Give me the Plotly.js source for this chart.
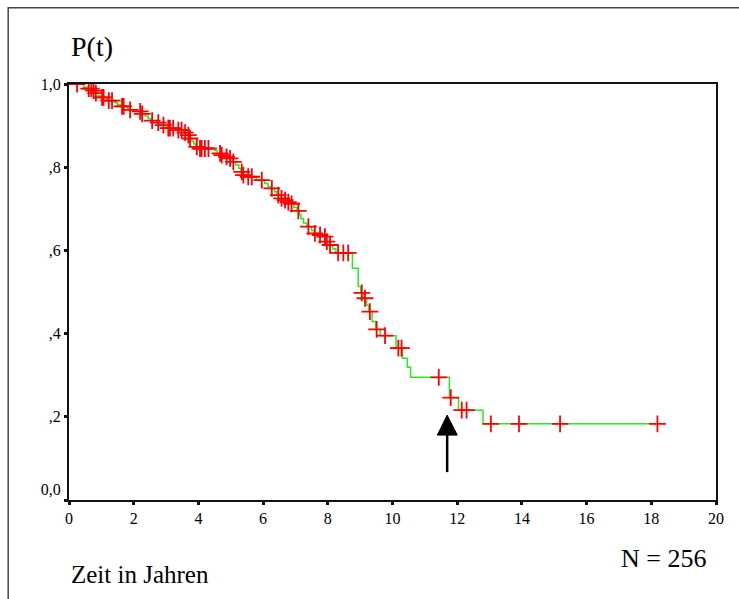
<!DOCTYPE html>
<html>
<head>
<meta charset="utf-8">
<script src="https://cdn.plot.ly/plotly-3.0.1.min.js"></script>
<style>
html,body{margin:0;padding:0;background:#fff;}
#chart{width:739px;height:599px;}
</style>
</head>
<body>
<div id="chart"></div>
<script>
// Kaplan-Meier step curve: event times (years) and survival after each step
const stepTimes = [0, 0.45, 0.58, 0.72, 0.78, 0.90, 0.98, 1.15, 1.20, 1.40, 1.50, 1.60, 1.80, 1.86, 2.05, 2.24, 2.35, 2.45, 2.53, 2.70, 2.85, 3.00, 3.30, 3.55, 3.65, 3.70, 3.72, 3.80, 3.86, 3.92, 4.02, 4.50, 4.58, 4.70, 4.80, 4.95, 5.05, 5.15, 5.25, 5.32, 5.37, 5.50, 5.80, 6.05, 6.15, 6.24, 6.35, 6.42, 6.55, 6.65, 6.75, 6.85, 6.95, 7.05, 7.12, 7.17, 7.25, 7.35, 7.50, 7.58, 7.70, 7.85, 7.95, 8.05, 8.15, 8.25, 8.76, 8.94, 9.02, 9.10, 9.20, 9.27, 9.37, 9.48, 9.62, 10.11, 10.31, 10.46, 10.56, 11.76, 12.04, 12.80, 18.19];
const stepSurv = [1.0, 0.992, 0.989, 0.984, 0.978, 0.972, 0.968, 0.964, 0.960, 0.955, 0.951, 0.946, 0.941, 0.938, 0.934, 0.928, 0.923, 0.917, 0.912, 0.907, 0.901, 0.894, 0.889, 0.883, 0.877, 0.873, 0.869, 0.862, 0.856, 0.849, 0.845, 0.840, 0.833, 0.829, 0.825, 0.821, 0.813, 0.805, 0.797, 0.789, 0.781, 0.777, 0.769, 0.761, 0.753, 0.749, 0.741, 0.733, 0.725, 0.721, 0.716, 0.712, 0.703, 0.695, 0.686, 0.676, 0.666, 0.657, 0.648, 0.641, 0.637, 0.633, 0.621, 0.613, 0.604, 0.594, 0.557, 0.513, 0.498, 0.485, 0.468, 0.453, 0.429, 0.410, 0.395, 0.365, 0.341, 0.319, 0.295, 0.246, 0.216, 0.183, 0.183];

// Censored observations
const censorTimes = [0.25, 0.61, 0.69, 0.76, 0.83, 1.02, 1.07, 1.23, 1.33, 1.64, 1.69, 1.89, 2.20, 2.26, 2.57, 2.76, 2.92, 3.07, 3.12, 3.22, 3.38, 3.48, 3.59, 3.69, 3.74, 3.95, 4.05, 4.10, 4.20, 4.31, 4.67, 4.72, 4.87, 4.98, 5.08, 5.34, 5.39, 5.54, 5.65, 5.96, 6.27, 6.47, 6.57, 6.68, 6.78, 6.88, 7.09, 7.40, 7.60, 7.76, 7.91, 7.97, 8.07, 8.32, 8.48, 8.63, 9.05, 9.15, 9.30, 9.51, 9.77, 10.18, 10.28, 11.43, 11.80, 12.14, 12.29, 13.04, 13.91, 15.18, 18.19];
const censorSurv = [1.0, 0.989, 0.989, 0.984, 0.978, 0.968, 0.968, 0.960, 0.960, 0.946, 0.946, 0.938, 0.934, 0.928, 0.912, 0.907, 0.901, 0.894, 0.894, 0.894, 0.889, 0.889, 0.883, 0.877, 0.869, 0.849, 0.845, 0.845, 0.845, 0.845, 0.833, 0.829, 0.825, 0.821, 0.813, 0.789, 0.781, 0.777, 0.777, 0.769, 0.749, 0.733, 0.725, 0.721, 0.716, 0.712, 0.695, 0.657, 0.641, 0.637, 0.633, 0.621, 0.613, 0.594, 0.594, 0.594, 0.498, 0.485, 0.453, 0.410, 0.395, 0.365, 0.365, 0.295, 0.246, 0.216, 0.216, 0.183, 0.183, 0.183, 0.183];

const xTickVals = [0, 2, 4, 6, 8, 10, 12, 14, 16, 18, 20];
const xTickText = ["0", "2", "4", "6", "8", "10", "12", "14", "16", "18", "20"];
const yTickVals = [0, 0.2, 0.4, 0.6, 0.8, 1.0];
const yTickText = ["0,0<br> ", ",2", ",4", ",6", ",8", "1,0"];

const arrowX = 11.69;

const serif = "'Liberation Serif'";

const traces = [
  {
    x: stepTimes, y: stepSurv, type: 'scatter', mode: 'lines',
    line: {shape: 'hv', color: '#22ee22', width: 1.5},
    hoverinfo: 'skip', showlegend: false
  },
  {
    x: censorTimes, y: censorSurv, type: 'scatter', mode: 'markers',
    marker: {symbol: 'cross-thin', size: 12, color: '#ff0000', line: {color: '#ff0000', width: 1.8}},
    hoverinfo: 'skip', showlegend: false
  }
];

const layout = {
  width: 739, height: 599,
  margin: {l: 69, r: 23, t: 84, b: 99},
  paper_bgcolor: '#ffffff', plot_bgcolor: '#ffffff',
  showlegend: false,
  font: {family: serif, color: '#000'},
  xaxis: {
    range: [0, 20], tickvals: xTickVals, ticktext: xTickText,
    showgrid: false, zeroline: false,
    showline: true, linecolor: '#111', linewidth: 2, mirror: true,
    ticks: 'outside', ticklen: 3, tickwidth: 3, tickcolor: '#111',
    tickfont: {family: serif, size: 16, color: '#000'}
  },
  yaxis: {
    range: [0, 1], tickvals: yTickVals, ticktext: yTickText,
    showgrid: false, zeroline: false,
    showline: true, linecolor: '#111', linewidth: 2, mirror: true,
    ticks: 'outside', ticklen: 3, tickwidth: 3, tickcolor: '#111',
    tickfont: {family: serif, size: 16, color: '#000'}
  },
  shapes: [
    {type: 'path', xref: 'paper', yref: 'paper',
     path: 'M -0.094 -0.25 L -0.094 1.183 L 1.05 1.183',
     line: {color: '#444', width: 1.5}, layer: 'below'},
    {type: 'path', xref: 'x', yref: 'y',
     path: 'M 11.385 0.156 L 12.003 0.156 L ' + arrowX + ' 0.204 Z',
     fillcolor: '#000', line: {color: '#000', width: 1}},
    {type: 'line', xref: 'x', yref: 'y', x0: arrowX, x1: arrowX, y0: 0.067, y1: 0.16,
     line: {color: '#000', width: 2.5}}
  ],
  annotations: [
    {text: 'P(t)', xref: 'paper', yref: 'paper', x: 0, y: 1.089, xanchor: 'left', yanchor: 'middle',
     showarrow: false, font: {family: serif, size: 28, color: '#000'}},
    {text: 'Zeit in Jahren', xref: 'paper', yref: 'paper', x: 0, y: -0.18, xanchor: 'left', yanchor: 'middle',
     showarrow: false, font: {family: serif, size: 25, color: '#000'}},
    {text: 'N = 256', xref: 'paper', yref: 'paper', x: 0.988, y: -0.14, xanchor: 'right', yanchor: 'middle',
     showarrow: false, font: {family: serif, size: 26, color: '#000'}}
  ]
};

Plotly.newPlot('chart', traces, layout, {displayModeBar: false, staticPlot: true});
</script>
</body>
</html>
